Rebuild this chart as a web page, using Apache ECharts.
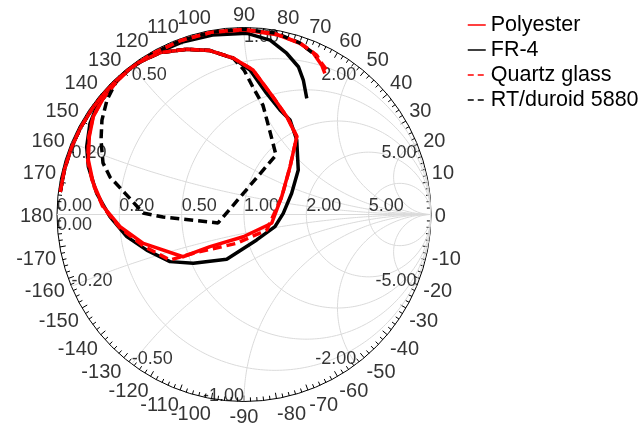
<!DOCTYPE html>
<html><head><meta charset="utf-8">
<script src="https://cdn.jsdelivr.net/npm/echarts@6/dist/echarts.min.js"></script>
<style>html,body{margin:0;padding:0;background:#fff}#c{width:639px;height:427px}</style>
</head><body><div id="c"></div>
<script>
// Series names (legend order)
const seriesNames = ['Polyester', 'FR-4', 'Quartz glass', 'RT/duroid 5880'];
// Smith chart grid values
const resistanceTicks = [0.2, 0.5, 1, 2, 5];
const reactanceTicks = [0.2, 0.5, 1, 2, 5];
// Angle tick labels (degrees)
const angleTicks = [0,10,20,30,40,50,60,70,80,90,100,110,120,130,140,150,160,170,180,
  -170,-160,-150,-140,-130,-120,-110,-100,-90,-80,-70,-60,-50,-40,-30,-20,-10];
// Reflection coefficient readings: [|Gamma|, angle in degrees]
const leftRim = [[0.99,173],[0.99,166],[0.99,159],[0.99,152],[0.99,145],[0.99,139],[0.99,134]];
const polyester = leftRim.concat([
  [0.99,129],[0.99,125],[0.975,117.4],[0.935,109],[0.895,101.7],[0.839,94],[0.774,86.4],[0.647,76.1],
  [0.57,66.2],[0.503,55.9],[0.355,46.1],[0.223,25.3],[0.155,-17.6],[0.119,-91.8],[0.25,-136.6],
  [0.397,-145.3],[0.56,-164],[0.666,-174.4],[0.753,176.8],[0.823,168.3],[0.882,160.7],[0.926,153.3],
  [0.961,147],[0.976,140.4],[0.984,133.8],
  [0.99,128],[0.99,120],[0.99,110],[0.99,100],[0.987,90],[0.978,80],[0.973,77.6],[0.963,71.9],
  [0.94,66.8],[0.90,62.5],[0.87,60.2]
]);
const fr4 = leftRim.concat([
  [0.99,129],[0.99,125],[0.975,117.4],[0.935,109.1],[0.895,101.7],[0.837,93.9],[0.773,87.6],[0.659,79.4],
  [0.591,71],[0.562,64],[0.488,54.7],[0.375,39.3],[0.279,24],[0.21,1.7],[0.178,-21.5],[0.152,-63.5],
  [0.257,-111.1],[0.376,-136.1],[0.469,-147.5],[0.554,-159.9],[0.638,-169.3],[0.717,-179.1],
  [0.796,171.8],[0.871,162.9],[0.916,156.7],[0.957,149.4],[0.976,143.8],[0.978,137.1],[0.989,133.4],
  [0.99,128],[0.985,120],[0.98,110],[0.975,100],[0.969,89],[0.943,81.5],[0.892,75.2],[0.842,69.8],
  [0.786,66.2],[0.706,61.6]
]);
const quartz = leftRim.concat([
  [0.99,129],[0.99,125],[0.975,117.4],[0.935,109],[0.895,101.7],[0.839,94],[0.774,86.4],[0.647,76.1],
  [0.57,66.2],[0.505,56],[0.355,46],[0.223,25],[0.147,-34.3],[0.159,-104.2],[0.341,-142.6],
  [0.465,-148.4],[0.564,-162.6],[0.668,-174],[0.755,177],[0.825,168.5],[0.884,161],[0.928,153.5],
  [0.962,147],[0.977,140.5],[0.985,134],
  [0.99,128],[0.99,120],[0.99,110],[0.99,100],[0.99,90],[0.98,80],[0.965,72],[0.937,65.5],
  [0.909,62.8],[0.89,60.1]
]);
const rtduroid = leftRim.concat([
  [0.99,129],[0.99,125],[0.975,117.4],[0.935,109],[0.895,101.7],[0.839,94],[0.773,90],[0.683,86],
  [0.594,80.2],[0.463,72.5],[0.361,61.7],[0.146,-161.9],[0.433,-178.2],[0.54,179.1],[0.647,169.8],
  [0.744,164.4],[0.803,159.9],[0.862,152.5],[0.912,146.4],[0.955,140.1],[0.989,133.4],
  [0.99,128],[0.99,120],[0.99,110],[0.99,100],[0.99,90],[0.985,80],[0.965,72],[0.93,65]
]);

const FONT = 'Liberation Sans, Arial, sans-serif';
function gamma(r, x) {
  const d = (r + 1) * (r + 1) + x * x;
  return [(r * r - 1 + x * x) / d, 2 * x / d];
}
function toPolar(g) {
  const m = Math.min(1, Math.hypot(g[0], g[1]));
  let a = Math.atan2(g[1], g[0]) * 180 / Math.PI;
  if (a < 0) a += 360;
  return [m, a];
}
function fixAngle(arr) { return arr.map(p => [p[0], p[1] < 0 ? p[1] + 360 : p[1]]); }

const gridSeries = [];
const gridStyle = { color: '#dadada', width: 1 };
function addGrid(pts) {
  gridSeries.push({ type: 'line', coordinateSystem: 'polar', data: pts, symbol: 'none', silent: true,
    lineStyle: gridStyle, z: 1, animation: false, clip: false });
}
resistanceTicks.forEach(r => {
  const pts = [];
  for (let i = 0; i <= 720; i++) {
    const u = -Math.PI / 2 + Math.PI * i / 720;
    const x = (i === 0) ? -1e9 : (i === 720 ? 1e9 : Math.tan(u));
    pts.push(toPolar(gamma(r, x)));
  }
  addGrid(pts);
});
reactanceTicks.forEach(xv => {
  [xv, -xv].forEach(x => {
    const pts = [];
    for (let i = 0; i <= 360; i++) {
      const u = Math.PI / 2 * i / 360;
      const r = (i === 360) ? 1e9 : Math.tan(u);
      pts.push(toPolar(gamma(r, x)));
    }
    addGrid(pts);
  });
});
addGrid([[1, 180], [0, 0], [1, 0]]);

// Grid labels
const labelData = [];
function lab(g, text, align, va, dy) {
  labelData.push({ value: toPolar(g), label: { formatter: text, align: align, verticalAlign: va, offset: [0, dy || 0] } });
}
lab([-1, 0], '0.00', 'left', 'bottom', 1);
lab([-1, 0], '0.00', 'left', 'top', 2);
resistanceTicks.forEach(r => lab(gamma(r, 0), r.toFixed(2), 'left', 'bottom', 1));
reactanceTicks.forEach(x => {
  const gp = gamma(0, x), gn = gamma(0, -x);
  const al = gp[0] < -0.01 ? 'left' : (gp[0] > 0.01 ? 'right' : 'left');
  const aln = gn[0] < -0.01 ? 'left' : (gn[0] > 0.01 ? 'right' : 'right');
  lab(gp, x.toFixed(2), al, 'top', 1);
  lab(gn, (-x).toFixed(2), aln, 'bottom', 4);
});

// Angle labels around the rim
const angleLabelData = angleTicks.map(a => {
  const c = Math.cos(a * Math.PI / 180), s = Math.sin(a * Math.PI / 180);
  const align = Math.abs(c) < 1e-6 ? 'center' : (c > 0 ? 'left' : 'right');
  const va = Math.abs(s) < 1e-6 ? 'middle' : (s > 0 ? 'bottom' : 'top');
  return { value: [1.02, a < 0 ? a + 360 : a], label: { formatter: String(a), align: align, verticalAlign: va, offset: [0, 2] } };
});

const traceDefs = [
  { name: 'FR-4', data: fr4, color: '#000000', type: 'solid' },
  { name: 'Polyester', data: polyester, color: '#ff0000', type: 'solid' },
  { name: 'RT/duroid 5880', data: rtduroid, color: '#000000', type: [9, 5] },
  { name: 'Quartz glass', data: quartz, color: '#ff0000', type: [9, 5] }
];
const traceSeries = traceDefs.map(d => ({
  name: d.name, type: 'line', coordinateSystem: 'polar', data: fixAngle(d.data), symbol: 'none',
  lineStyle: { color: d.color, width: 3.5, type: d.type }, itemStyle: { color: d.color },
  z: 3, animation: false, clip: false
}));

const legendStyle = {
  'Polyester': { color: '#ff0000', type: 'solid' },
  'FR-4': { color: '#000000', type: 'solid' },
  'Quartz glass': { color: '#ff0000', type: [6, 4] },
  'RT/duroid 5880': { color: '#000000', type: [6, 4] }
};

const chart = echarts.init(document.getElementById('c'), null, { renderer: 'canvas' });
chart.setOption({
  backgroundColor: '#ffffff',
  animation: false,
  polar: { center: [244, 214.5], radius: 187 },
  radiusAxis: { type: 'value', min: 0, max: 1, show: false, splitLine: { show: false } },
  angleAxis: {
    type: 'value', min: 0, max: 360, interval: 10, startAngle: 0, clockwise: false,
    axisLine: { lineStyle: { color: '#000', width: 1 } },
    axisTick: { show: true, inside: true, length: 6, lineStyle: { color: '#000', width: 1 } },
    minorTick: { show: true, splitNumber: 5, length: 4, lineStyle: { color: '#000', width: 1 } },
    splitLine: { show: false },
    axisLabel: { show: false }
  },
  legend: {
    orient: 'vertical', left: 462, top: 9, itemWidth: 18, itemHeight: 12, itemGap: 3,
    textStyle: { fontSize: 21.5, fontFamily: FONT, color: '#000' },
    data: seriesNames.map(n => ({ name: n,
      itemStyle: { opacity: 0, borderWidth: 0 },
      lineStyle: { color: legendStyle[n].color, width: 1.5, type: legendStyle[n].type, opacity: 1 } }))
  },
  series: gridSeries.concat([{
    type: 'scatter', coordinateSystem: 'polar', data: labelData, symbolSize: 0, silent: true, z: 2,
    label: { show: true, position: [0, 0], fontSize: 18, color: '#000', fontFamily: FONT }
  }, {
    type: 'scatter', coordinateSystem: 'polar', data: angleLabelData, symbolSize: 0, silent: true, z: 2, clip: false,
    label: { show: true, position: [0, 0], fontSize: 20, color: '#000', fontFamily: FONT }
  }]).concat(traceSeries)
});
</script></body></html>
